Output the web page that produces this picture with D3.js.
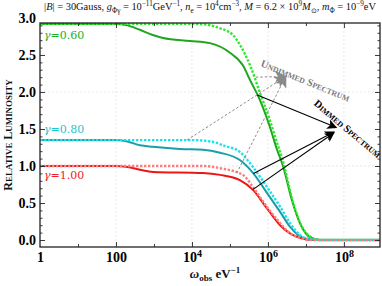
<!DOCTYPE html>
<html><head><meta charset="utf-8">
<script src="https://cdn.jsdelivr.net/npm/d3@7"></script>
<style>body{margin:0;background:#fff}svg{display:block}</style>
</head><body><svg id="c" width="382" height="286"></svg>
<script>
// ---- data (x as log10 of omega_obs, y relative luminosity) ----
const xTickExp = [0, 2, 4, 6, 8];
const xMinorExp = [1, 3, 5, 7];
const yTicks = [0, 0.5, 1.0, 1.5, 2.0, 2.5, 3.0];
const gammaLabels = ["0.60", "0.80", "1.00"];
const gammaLabelY = [2.72, 1.45, 0.83];

const greenUndimmedExp = [0, 2, 4.0, 4.3, 4.74, 5.08, 5.26, 5.53, 5.79, 6.05, 6.24, 6.39, 6.63, 6.84, 7.1, 7.37, 9];
const greenUndimmedL   = [2.92, 2.92, 2.92, 2.915, 2.86, 2.77, 2.64, 2.36, 1.99, 1.62, 1.31, 1.08, 0.57, 0.24, 0.05, 0.0, 0.0];
const greenDimmedExp = [0, 2.0, 2.3, 2.63, 2.97, 3.24, 3.95, 4.47, 5.0, 5.34, 5.53, 5.79, 6.05, 6.24, 6.39, 6.63, 6.84, 7.1, 7.37, 9];
const greenDimmedL   = [2.92, 2.92, 2.90, 2.84, 2.77, 2.73, 2.69, 2.66, 2.53, 2.36, 2.16, 1.89, 1.53, 1.22, 1.01, 0.54, 0.23, 0.04, 0.0, 0.0];

const cyanUndimmedExp = [0, 4.0, 4.5, 4.87, 5.26, 5.6, 5.97, 6.32, 6.58, 6.84, 7.1, 7.37, 9];
const cyanUndimmedL   = [1.35, 1.35, 1.33, 1.27, 1.19, 0.99, 0.72, 0.45, 0.23, 0.07, 0.01, 0, 0];
const cyanDimmedExp = [0, 2.0, 2.3, 2.63, 2.97, 3.68, 4.29, 4.74, 5.26, 5.6, 5.97, 6.32, 6.58, 6.84, 7.1, 7.37, 9];
const cyanDimmedL   = [1.35, 1.35, 1.33, 1.28, 1.26, 1.23, 1.22, 1.18, 1.08, 0.91, 0.64, 0.38, 0.18, 0.05, 0.01, 0, 0];

const redUndimmedExp = [0, 4.3, 4.74, 5.34, 5.6, 5.97, 6.32, 6.58, 6.84, 7.2, 9];
const redUndimmedL   = [1.0, 1.0, 0.97, 0.88, 0.72, 0.45, 0.23, 0.09, 0.03, 0, 0];
const redDimmedExp = [0, 2.0, 2.3, 2.63, 2.97, 4.29, 4.74, 5.26, 5.6, 5.97, 6.32, 6.58, 6.84, 7.15, 9];
const redDimmedL   = [1.0, 1.0, 0.985, 0.95, 0.92, 0.905, 0.88, 0.81, 0.68, 0.43, 0.20, 0.09, 0.03, 0, 0];

// annotation anchors [log10 omega, L]
const undimmedFrom = [[3.87, 1.35], [5.68, 2.2], [5.18, 0.905]];
const undimmedTip  = [6.47, 2.21];
const dimmedFrom = [[5.72, 1.96], [5.62, 0.90], [5.6, 0.68]];
const dimmedTo   = [[7.80, 1.52], [7.74, 1.46], [7.74, 1.45]];
const undimmedTextAt = [5.79, 2.35];
const dimmedTextAt = [7.19, 1.83];

// ---- layout ----
const svg = d3.select("#c");
const L = 40, R = 380, T = 23, B = 247;
const x = d3.scaleLog().domain([1, Math.pow(10, 8.95)]).range([L, R]);
const y = d3.scaleLinear().domain([-0.0946, 2.932]).range([B, T]);
const px = e => x(Math.pow(10, e));
const serif = "'Liberation Serif', 'Times New Roman', serif";

const defs = svg.append("defs");
defs.append("clipPath").attr("id", "clip").append("rect")
  .attr("x", L).attr("y", T).attr("width", R - L).attr("height", B - T);
function marker(id, color, w, h) {
  defs.append("marker").attr("id", id).attr("viewBox", "0 0 10 10")
    .attr("refX", 9).attr("refY", 5).attr("markerUnits", "userSpaceOnUse")
    .attr("markerWidth", w).attr("markerHeight", h).attr("orient", "auto")
    .append("path").attr("d", "M0,0 L10,5 L0,10 L2.5,5 Z").attr("fill", color);
}
marker("ag", "#8a8a8a", 15, 12);
marker("ab", "#000", 15, 10);

// gridlines
const grid = svg.append("g").attr("stroke", "#e2e2e2").attr("stroke-dasharray", "2,2").attr("stroke-width", 0.8);
grid.selectAll("line.gx").data(xTickExp.slice(1)).join("line")
  .attr("x1", d => px(d)).attr("x2", d => px(d)).attr("y1", T).attr("y2", B);
grid.selectAll("line.gy").data([1.0, 2.0]).join("line")
  .attr("y1", d => y(d)).attr("y2", d => y(d)).attr("x1", L).attr("x2", R);

// curves
const line = d3.line().x(d => px(d[0])).y(d => y(d[1])).curve(d3.curveMonotoneX);
const zip = (a, b) => a.map((v, i) => [v, b[i]]);
const plot = svg.append("g").attr("clip-path", "url(#clip)");
const solids = [
  [greenDimmedExp, greenDimmedL, "#1fa61f"],
  [cyanDimmedExp, cyanDimmedL, "#1c9ea6"],
  [redDimmedExp, redDimmedL, "#ec1616"]
];
const dotted = [
  [greenUndimmedExp, greenUndimmedL, "#2fe82f"],
  [cyanUndimmedExp, cyanUndimmedL, "#19e3ea"],
  [redUndimmedExp, redUndimmedL, "#ff7c7c"]
];
solids.forEach(s => plot.append("path").attr("d", line(zip(s[0], s[1])))
  .attr("fill", "none").attr("stroke", s[2]).attr("stroke-width", 2));
dotted.forEach(s => plot.append("path").attr("d", line(zip(s[0], s[1])))
  .attr("fill", "none").attr("stroke", s[2]).attr("stroke-width", 2.4).attr("stroke-dasharray", "2.4,1.6"));

// annotation arrows
const ann = svg.append("g");
undimmedFrom.forEach(f => ann.append("line")
  .attr("x1", px(f[0])).attr("y1", y(f[1])).attr("x2", px(undimmedTip[0])).attr("y2", y(undimmedTip[1]))
  .attr("stroke", "#8a8a8a").attr("stroke-width", 1).attr("stroke-dasharray", "2.5,2")
  .attr("marker-end", "url(#ag)"));
dimmedFrom.forEach((f, i) => ann.append("line")
  .attr("x1", px(f[0])).attr("y1", y(f[1])).attr("x2", px(dimmedTo[i][0])).attr("y2", y(dimmedTo[i][1]))
  .attr("stroke", "#000").attr("stroke-width", 1.1)
  .attr("marker-end", "url(#ab)"));

function smallCapsText(g, words, size) {
  const t = g.append("text").attr("font-family", serif).attr("font-size", size);
  words.forEach((w, i) => {
    t.append("tspan").text((i ? " " : "") + w[0]);
    t.append("tspan").attr("font-size", size * 0.74).text(w.slice(1).toUpperCase());
  });
  return t;
}
const ut = svg.append("g").attr("transform", `translate(${px(undimmedTextAt[0])},${y(undimmedTextAt[1])}) rotate(22)`);
smallCapsText(ut, ["Undimmed", "Spectrum"], 10.5).attr("fill", "#7a7a7a").attr("font-weight", "bold");
const dt = svg.append("g").attr("transform", `translate(${px(dimmedTextAt[0])},${y(dimmedTextAt[1])}) rotate(40)`);
smallCapsText(dt, ["Dimmed", "Spectrum"], 10.5).attr("fill", "#000").attr("font-weight", "bold");

// frame ticks via axes
function tickAxis(axisFn, scale, vals, size, transform) {
  svg.append("g").attr("transform", transform)
    .call(axisFn(scale).tickValues(vals).tickSize(size).tickFormat(""))
    .call(g => g.select(".domain").remove())
    .selectAll("line").attr("stroke", "#222").attr("stroke-width", 0.9);
}
const xMaj = xTickExp.slice(1).map(e => Math.pow(10, e));
const xMin = xMinorExp.map(e => Math.pow(10, e));
const yMaj = yTicks.filter(v => v < 2.93);
const yMin = d3.range(0, 30).map(i => i / 10).filter(v => Math.round(v * 10) % 5 !== 0);
tickAxis(d3.axisBottom, x, xMaj, -5, `translate(0,${B})`);
tickAxis(d3.axisBottom, x, xMin, -3, `translate(0,${B})`);
tickAxis(d3.axisTop, x, xMaj, -5, `translate(0,${T})`);
tickAxis(d3.axisTop, x, xMin, -3, `translate(0,${T})`);
tickAxis(d3.axisLeft, y, yMaj, -5, `translate(${L},0)`);
tickAxis(d3.axisLeft, y, yMin, -2.5, `translate(${L},0)`);
tickAxis(d3.axisRight, y, yMaj, -5, `translate(${R},0)`);
tickAxis(d3.axisRight, y, yMin, -2.5, `translate(${R},0)`);

// frame
svg.append("rect").attr("x", L).attr("y", T).attr("width", R - L).attr("height", B - T)
  .attr("fill", "none").attr("stroke", "#222").attr("stroke-width", 1.3);

// gamma labels
const gColors = ["#22b022", "#1fc4cc", "#ee2222"];
gammaLabels.forEach((g, i) => {
  const t = svg.append("text").attr("x", 44).attr("y", y(gammaLabelY[i]))
    .attr("font-family", "'DejaVu Serif', serif").attr("font-size", 11).attr("fill", gColors[i]);
  t.append("tspan").attr("font-style", "italic").text("γ");
  t.append("tspan").text("=" + g);
});

// tick labels
const xl = svg.append("g").attr("transform", `translate(0,${B})`)
  .call(d3.axisBottom(x).tickValues(xTickExp.map(e => Math.pow(10, e))).tickSize(0).tickPadding(4).tickFormat(""));
xl.select(".domain").remove();
xl.selectAll(".tick text").each(function (d) {
  const e = Math.round(Math.log10(d));
  const t = d3.select(this).attr("font-family", serif).attr("font-size", 14).attr("font-weight", "bold").attr("fill", "#000").attr("dy", "0.78em");
  if (e === 0) t.text("1");
  else if (e === 2) t.text("100");
  else { t.append("tspan").text("10"); t.append("tspan").attr("dy", "-0.45em").attr("font-size", 10).text(e); }
});
const yl = svg.append("g").attr("transform", `translate(${L},0)`)
  .call(d3.axisLeft(y).tickValues(yTicks).tickSize(0).tickPadding(4).tickFormat(d3.format(".1f")));
yl.select(".domain").remove();
yl.selectAll(".tick text").attr("font-family", serif).attr("font-size", 14).attr("font-weight", "bold").attr("fill", "#000");

// axis titles
const yt = svg.append("g").attr("transform", `translate(12,${(T + B) / 2}) rotate(-90)`);
smallCapsText(yt, ["Relative", "Luminosity"], 12).attr("text-anchor", "middle").attr("font-weight", "bold").attr("fill", "#111");
const xt = svg.append("text").attr("x", 215).attr("y", 278).attr("text-anchor", "middle")
  .attr("font-family", serif).attr("font-size", 13).attr("font-weight", "bold").attr("fill", "#111");
xt.append("tspan").attr("font-style", "italic").text("ω");
xt.append("tspan").attr("font-size", 9).attr("dy", 3).text("obs");
xt.append("tspan").attr("dy", -3).text(" eV");
xt.append("tspan").attr("font-size", 9).attr("dy", -5).text("−1");

// title
const tt = svg.append("text").attr("x", 210).attr("y", 10).attr("text-anchor", "middle")
  .attr("font-family", serif).attr("font-size", 10.4).attr("fill", "#111");
const parts = [
  ["|", 0], ["B", 0, "i"], ["| = 30Gauss, ", 0], ["g", 0, "i"], ["Φγ", 1], [" = 10", 0], ["−11", 2], ["GeV", 0], ["−1", 2],
  [", ", 0], ["n", 0, "i"], ["e", 1], [" = 10", 0], ["4", 2], ["cm", 0], ["−3", 2], [", ", 0], ["M", 0, "i"], [" = 6.2 × 10", 0], ["9", 2],
  ["M", 0, "i"], ["⊙", 1], [", ", 0], ["m", 0, "i"], ["Φ", 1], [" = 10", 0], ["−9", 2], ["eV", 0]
];
let cur = 0;
parts.forEach(p => {
  const target = p[1] === 1 ? 2.5 : p[1] === 2 ? -4 : 0;
  const s = tt.append("tspan").attr("dy", target - cur).text(p[0]);
  cur = target;
  if (p[1]) s.attr("font-size", 7.2);
  if (p[2]) s.attr("font-style", "italic");
});
</script></body></html>
